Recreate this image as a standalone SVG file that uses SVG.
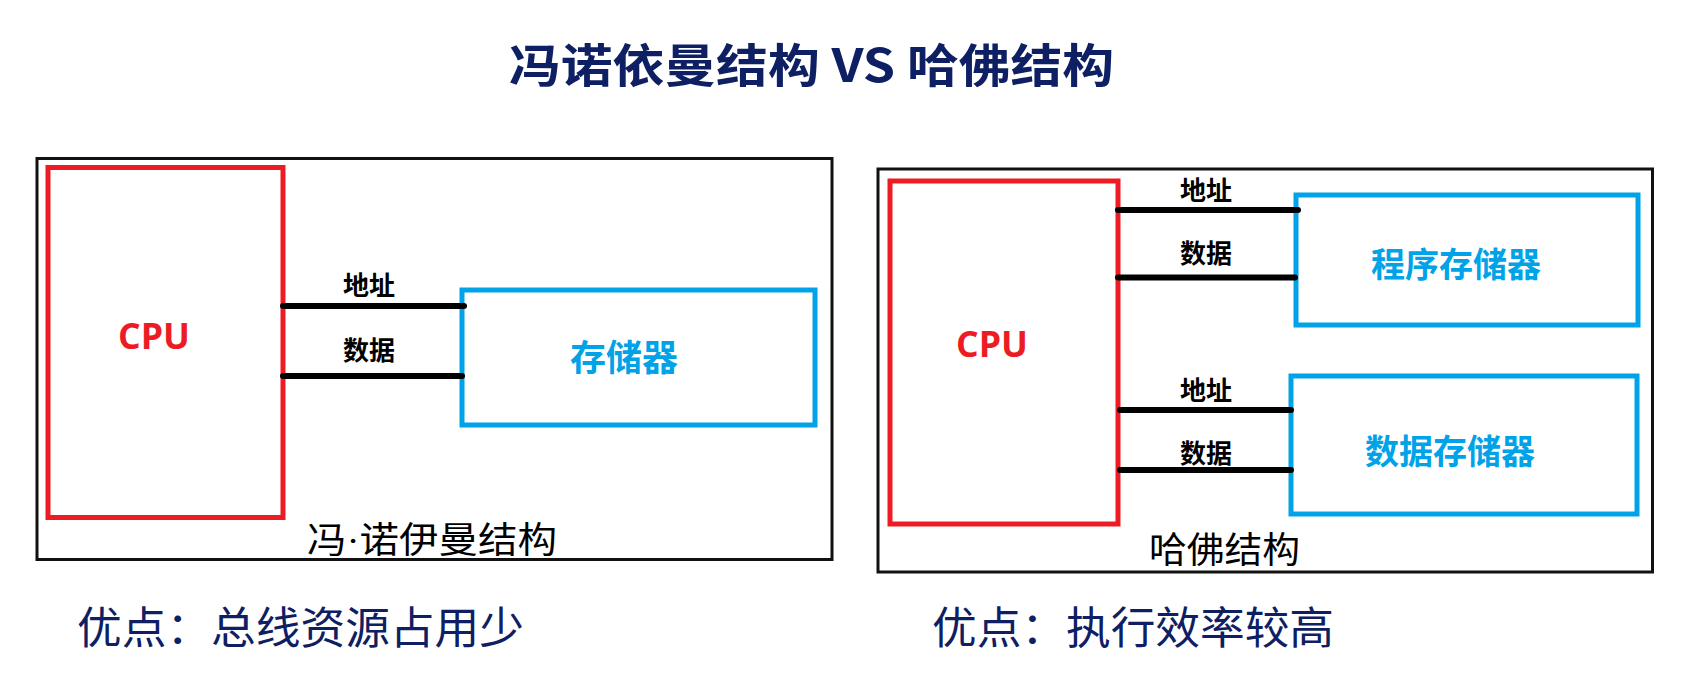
<svg xmlns="http://www.w3.org/2000/svg" width="1687" height="679" viewBox="0 0 1687 679">
<style>
.frame{fill:none;stroke:#111;stroke-width:3}
.cpu{fill:none;stroke:#ED1C24;stroke-width:5}
.mem{fill:none;stroke:#00A2E8;stroke-width:5}
.bus{stroke:#000;stroke-width:6;stroke-linecap:round}
.title{font-family:"Noto Sans CJK SC",sans-serif;font-weight:700;fill:#0E2063}
.lbl{font-family:"Noto Sans CJK SC",sans-serif;font-weight:700;font-size:26px;fill:#000;text-anchor:middle}
.cputxt{font-family:"Open Sans","Noto Sans CJK SC",sans-serif;font-weight:700;font-size:35px;fill:#ED1C24;text-anchor:middle}
.memtxt{font-family:"Noto Sans CJK SC",sans-serif;font-weight:700;fill:#00A2E8;text-anchor:middle}
.cap{font-family:"Liberation Serif","Noto Sans CJK SC",serif;font-weight:400;font-size:36px;fill:#000}
.adv{font-family:"Noto Sans CJK SC",sans-serif;font-weight:400;font-size:44px;fill:#0E2063}
</style>
<rect width="1687" height="679" fill="#fff"/>
<text id="title" class="title" x="509" y="82" font-size="46" textLength="605" lengthAdjust="spacingAndGlyphs">冯诺依曼结构 VS 哈佛结构</text>

<g id="vonNeumann">
  <rect class="frame" x="37" y="158.5" width="795" height="401"/>
  <text class="cap" x="307" y="553" textLength="250" lengthAdjust="spacingAndGlyphs">冯·诺伊曼结构</text>
</g>
<g id="vn-cpu">
  <rect class="cpu" x="48" y="167.5" width="235" height="350"/>
  <text class="cputxt" x="154" y="349" textLength="72" lengthAdjust="spacingAndGlyphs">CPU</text>
</g>
<g id="vn-mem">
  <rect class="mem" x="462" y="290" width="353" height="135"/>
  <text class="memtxt" x="624" y="371" font-size="36">存储器</text>
</g>

<g id="harvard">
  <rect class="frame" x="878" y="169" width="774.5" height="403"/>
  <text class="cap" x="1149" y="563" textLength="151" lengthAdjust="spacingAndGlyphs">哈佛结构</text>
</g>
<g id="hv-cpu">
  <rect class="cpu" x="890" y="181" width="228" height="343"/>
  <text class="cputxt" x="992" y="357" textLength="72" lengthAdjust="spacingAndGlyphs">CPU</text>
</g>
<g id="hv-prog">
  <rect class="mem" x="1296" y="195" width="342" height="130"/>
  <text class="memtxt" x="1456" y="277" font-size="34">程序存储器</text>
</g>
<g id="hv-data">
  <rect class="mem" x="1291" y="376" width="346" height="138"/>
  <text class="memtxt" x="1450" y="464" font-size="34">数据存储器</text>
</g>

<g id="connectors">
  <line class="bus" x1="283" y1="306" x2="464" y2="306"/>
  <line class="bus" x1="283" y1="376" x2="462" y2="376"/>
  <text class="lbl" x="369" y="295">地址</text>
  <text class="lbl" x="369" y="360">数据</text>

  <line class="bus" x1="1118" y1="210" x2="1298" y2="210"/>
  <line class="bus" x1="1118" y1="277.5" x2="1295" y2="277.5"/>
  <line class="bus" x1="1120" y1="410" x2="1291" y2="410"/>
  <line class="bus" x1="1120" y1="470" x2="1291" y2="470"/>
  <text class="lbl" x="1206" y="200">地址</text>
  <text class="lbl" x="1206" y="263">数据</text>
  <text class="lbl" x="1206" y="399.5">地址</text>
  <text class="lbl" x="1206" y="463">数据</text>
</g>

<text id="adv-left" class="adv" x="77" y="644" textLength="447" lengthAdjust="spacingAndGlyphs">优点：总线资源占用少</text>
<text id="adv-right" class="adv" x="932" y="644" textLength="402" lengthAdjust="spacingAndGlyphs">优点：执行效率较高</text>
</svg>
